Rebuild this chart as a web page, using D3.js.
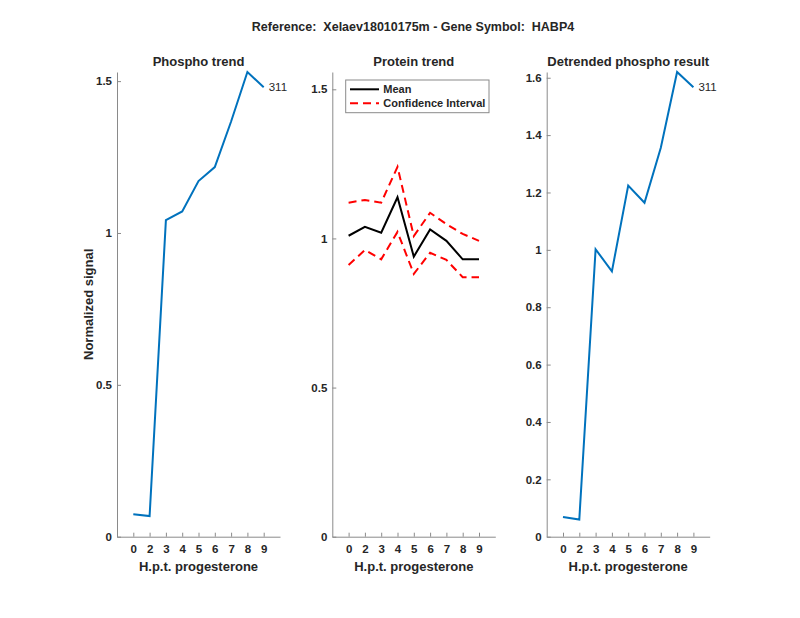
<!DOCTYPE html>
<html>
<head>
<meta charset="utf-8">
<script src="https://cdn.jsdelivr.net/npm/d3@7"></script>
<style>
  body { margin: 0; background: #fff; }
  text { font-family: "Liberation Sans", Arial, sans-serif; fill: #262626; white-space: pre; }
  .tick text { font-size: 11.5px; font-weight: bold; }
  .domain, .tick line { stroke: #8a8a8a; }
</style>
</head>
<body>
<div id="chart"></div>
<script>
"use strict";

// hours post treatment, shown at positions 1..9
var hptLabels     = ["0", "2", "3", "4", "5", "6", "7", "8", "9"];
var phospho       = [0.074, 0.068, 1.042, 1.071, 1.171, 1.217, 1.367, 1.530, 1.480];
var proteinMean   = [1.009, 1.039, 1.019, 1.138, 0.939, 1.030, 0.992, 0.930, 0.930];
var proteinUpper  = [1.120, 1.129, 1.120, 1.240, 1.008, 1.086, 1.048, 1.015, 0.992];
var proteinLower  = [0.911, 0.961, 0.930, 1.022, 0.881, 0.952, 0.928, 0.870, 0.870];
var detrended     = [0.069, 0.060, 1.002, 0.925, 1.224, 1.164, 1.356, 1.620, 1.567];
var peptideId     = "311";

var phosphoTicks  = [0, 0.5, 1, 1.5];
var proteinTicks  = [0, 0.5, 1, 1.5];
var detrendTicks  = [0, 0.2, 0.4, 0.6, 0.8, 1, 1.2, 1.4, 1.6];

var width      = 800;
var height     = 618;
var plotTop    = 72;
var plotBottom = 536.7;
var blue       = "#0072BD";

var svg = d3.select("#chart").append("svg")
  .attr("width", width)
  .attr("height", height);

svg.append("text")
  .attr("x", 413).attr("y", 27)
  .attr("text-anchor", "middle").attr("dy", ".35em")
  .attr("xml:space", "preserve")
  .style("font-size", "12.5px").style("font-weight", "bold")
  .text("Reference:  Xelaev18010175m - Gene Symbol:  HABP4");

var makePanel = function(left, yMax, yTicks, title) {
  var x = d3.scaleLinear().domain([0, 10]).range([left, left + 163]);
  var y = d3.scaleLinear().domain([0, yMax]).range([plotBottom, plotTop]);

  svg.append("g")
    .attr("transform", "translate(0," + plotBottom + ")")
    .call(d3.axisBottom(x)
      .tickValues(d3.range(1, 10))
      .tickFormat(function(d) { return hptLabels[d - 1]; })
      .tickSizeInner(-4).tickSizeOuter(0).tickPadding(8));

  svg.append("g")
    .attr("transform", "translate(" + left + ",0)")
    .call(d3.axisLeft(y)
      .tickValues(yTicks)
      .tickFormat(function(d) { return d3.format("~g")(d); })
      .tickSizeInner(-4).tickSizeOuter(0).tickPadding(5));

  svg.append("text")
    .attr("x", x(5)).attr("y", 61)
    .attr("text-anchor", "middle").attr("dy", ".35em")
    .style("font-size", "13px").style("font-weight", "bold")
    .text(title);

  svg.append("text")
    .attr("x", x(5)).attr("y", 566)
    .attr("text-anchor", "middle").attr("dy", ".35em")
    .style("font-size", "13px").style("font-weight", "bold")
    .text("H.p.t. progesterone");

  return { x: x, y: y };
};

var drawLine = function(p, data, color, dash) {
  var line = d3.line()
    .x(function(d, i) { return p.x(i + 1); })
    .y(function(d) { return p.y(d); });

  svg.append("path")
    .datum(data)
    .attr("d", line)
    .attr("fill", "none")
    .attr("stroke", color)
    .attr("stroke-width", 2)
    .attr("stroke-dasharray", dash || null);
};

var labelEnd = function(p, data) {
  svg.append("text")
    .attr("x", p.x(data.length) + 5)
    .attr("y", p.y(data[data.length - 1]))
    .attr("dy", ".35em")
    .style("font-size", "11.5px")
    .text(peptideId);
};

// Phospho trend
var p1 = makePanel(117, d3.max(phospho), phosphoTicks, "Phospho trend");
drawLine(p1, phospho, blue);
labelEnd(p1, phospho);

svg.append("text")
  .attr("transform", "translate(88," + (plotTop + plotBottom) / 2 + ") rotate(-90)")
  .attr("text-anchor", "middle").attr("dy", ".35em")
  .style("font-size", "13px").style("font-weight", "bold")
  .text("Normalized signal");

// Protein trend
var p2 = makePanel(332.3, 1.558, proteinTicks, "Protein trend");
drawLine(p2, proteinUpper, "#ff0000", "8,5");
drawLine(p2, proteinLower, "#ff0000", "8,5");
drawLine(p2, proteinMean, "#000000");

var legend = svg.append("g").attr("transform", "translate(345.7,80)");
legend.append("rect")
  .attr("width", 143.3).attr("height", 32.7)
  .attr("fill", "#fff").attr("stroke", "#8a8a8a");
var legendItems = [
  { name: "Mean", color: "#000000", dash: null },
  { name: "Confidence Interval", color: "#ff0000", dash: "8,5" }
];
legendItems.forEach(function(item, i) {
  var ly = 9.3 + i * 14;
  legend.append("line")
    .attr("x1", 4.3).attr("x2", 33.3)
    .attr("y1", ly).attr("y2", ly)
    .attr("stroke", item.color).attr("stroke-width", 2)
    .attr("stroke-dasharray", item.dash);
  legend.append("text")
    .attr("x", 37.6).attr("y", ly).attr("dy", ".35em")
    .style("font-size", "11px").style("font-weight", "bold")
    .text(item.name);
});

// Detrended
var p3 = makePanel(546.7, d3.max(detrended), detrendTicks, "Detrended phospho result");
drawLine(p3, detrended, blue);
labelEnd(p3, detrended);
</script>
</body>
</html>
